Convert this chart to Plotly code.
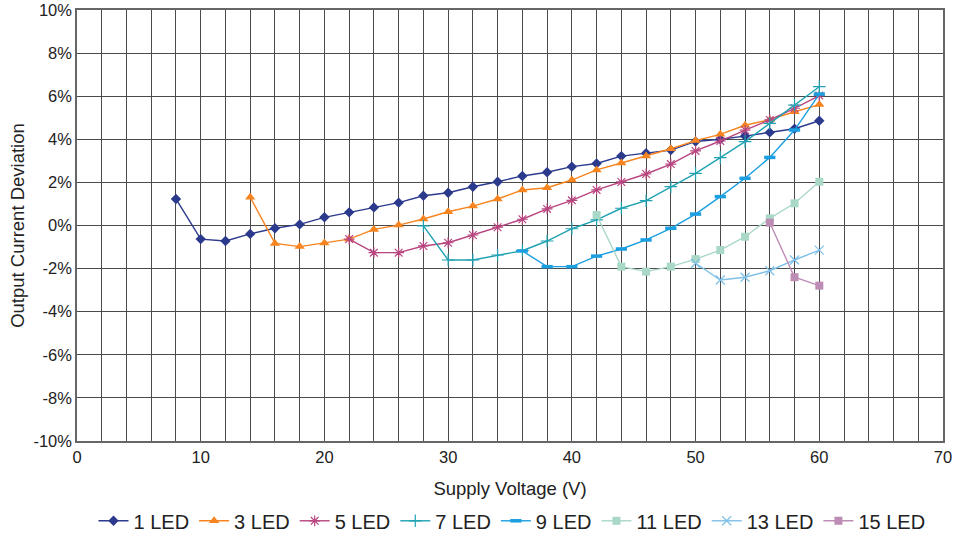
import plotly.graph_objects as go

# ---- data (Output current deviation, %) ----
v1 = [8, 10, 12, 14, 16, 18, 20, 22, 24, 26, 28, 30, 32, 34, 36, 38, 40, 42, 44, 46, 48, 50, 52, 54, 56, 58, 60]
led1 = [1.23, -0.63, -0.72, -0.39, -0.13, 0.05, 0.38, 0.61, 0.84, 1.06, 1.38, 1.52, 1.80, 2.03, 2.30, 2.47, 2.73, 2.88, 3.22, 3.35, 3.50, 3.90, 4.00, 4.15, 4.32, 4.49, 4.86]

v3 = [14, 16, 18, 20, 22, 24, 26, 28, 30, 32, 34, 36, 38, 40, 42, 44, 46, 48, 50, 52, 54, 56, 58, 60]
led3 = [1.31, -0.83, -0.98, -0.81, -0.63, -0.18, 0.02, 0.30, 0.64, 0.90, 1.23, 1.65, 1.75, 2.11, 2.58, 2.90, 3.22, 3.56, 3.94, 4.23, 4.65, 4.91, 5.28, 5.61]

v5 = [22, 24, 26, 28, 30, 32, 34, 36, 38, 40, 42, 44, 46, 48, 50, 52, 54, 56, 58, 60]
led5 = [-0.63, -1.26, -1.26, -0.95, -0.80, -0.44, -0.08, 0.29, 0.77, 1.17, 1.65, 2.02, 2.39, 2.85, 3.46, 3.92, 4.43, 4.90, 5.44, 6.03]

v7 = [28, 30, 32, 34, 36, 38, 40, 42, 44, 46, 48, 50, 52, 54, 56, 58, 60]
led7 = [-0.02, -1.60, -1.60, -1.37, -1.17, -0.72, -0.15, 0.26, 0.80, 1.15, 1.80, 2.42, 3.15, 3.89, 4.74, 5.59, 6.44]

v9 = [36, 38, 40, 42, 44, 46, 48, 50, 52, 54, 56, 58, 60]
led9 = [-1.18, -1.91, -1.91, -1.42, -1.09, -0.67, -0.13, 0.53, 1.34, 2.19, 3.16, 4.43, 6.10]

v11 = [42, 44, 46, 48, 50, 52, 54, 56, 58, 60]
led11 = [0.49, -1.91, -2.14, -1.91, -1.56, -1.14, -0.52, 0.33, 1.03, 2.03]

v13 = [50, 52, 54, 56, 58, 60]
led13 = [-1.75, -2.53, -2.40, -2.10, -1.60, -1.14]

v15 = [56, 58, 60]
led15 = [0.13, -2.40, -2.79]

names = ["1 LED", "3 LED", "5 LED", "7 LED", "9 LED", "11 LED", "13 LED", "15 LED"]
xs = [v1, v3, v5, v7, v9, v11, v13, v15]
ys = [led1, led3, led5, led7, led9, led11, led13, led15]

y_ticks = [-10, -8, -6, -4, -2, 0, 2, 4, 6, 8, 10]
y_ticktext = [f"{t}%" for t in y_ticks]
x_ticks = [0, 10, 20, 30, 40, 50, 60, 70]

# ---- styles ----
colors = ["#2B3A8C", "#F7841F", "#B8457F", "#1FA2B2", "#1A9FE0", "#A9D8C6", "#7EC0E8", "#BD8DB5"]
symbols = ["diamond", "triangle-up", "asterisk-open", "cross-thin-open", "line-ew-open", "square", "x-thin-open", "square"]
sizes = [8, 9, 9, 9, 8, 8, 9, 8]
mlw = [0, 0, 1.2, 1.2, 3.5, 0, 1.2, 0]

fig = go.Figure()
for i in range(len(names)):
    fig.add_trace(go.Scatter(
        x=xs[i], y=ys[i], name=names[i], mode="lines+markers",
        line=dict(color=colors[i], width=1.4),
        marker=dict(symbol=symbols[i], size=sizes[i], color=colors[i],
                    line=dict(color=colors[i], width=mlw[i])),
    ))

grid = "#4a4a4a"
fig.update_layout(
    width=957, height=538,
    margin=dict(l=77, r=14, t=10, b=97, autoexpand=False),
    paper_bgcolor="white", plot_bgcolor="white",
    font=dict(family="Liberation Sans, Arial, sans-serif", size=16.5, color="#222"),
    showlegend=True,
    legend=dict(orientation="h", x=0.535, xanchor="center", xref="container",
                y=0.032, yanchor="middle", yref="container",
                font=dict(size=20), itemwidth=30, tracegroupgap=0),
    xaxis=dict(range=[0, 70], tickvals=x_ticks, ticks="", showgrid=True, gridcolor=grid, gridwidth=1,
               minor=dict(dtick=2, showgrid=True, gridcolor=grid, gridwidth=1),
               showline=True, linecolor="#666", linewidth=1.5, mirror=True, zeroline=False,
               automargin=False, ticklabeloverflow="allow",
               title=dict(text="Supply Voltage (V)", font=dict(size=18.5), standoff=18)),
    yaxis=dict(range=[-10, 10], tickvals=y_ticks, ticktext=y_ticktext, ticks="",
               showgrid=True, gridcolor=grid, gridwidth=1,
               showline=True, linecolor="#666", linewidth=1.5, mirror=True, zeroline=False,
               automargin=False, ticklabeloverflow="allow",
               title=dict(text="Output Current Deviation", font=dict(size=18.5), standoff=4)),
)

fig.write_html("out.html", config={"displayModeBar": False},
               post_script="document.body.style.margin='0';")
